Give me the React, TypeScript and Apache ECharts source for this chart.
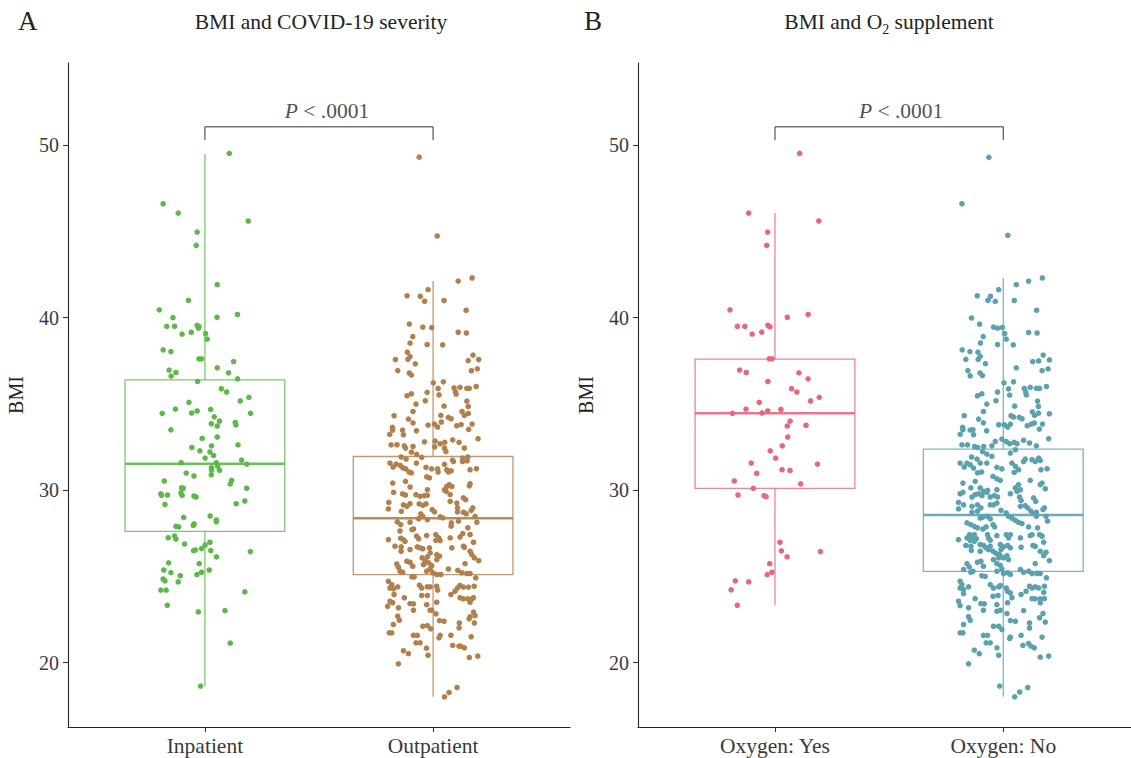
import React, { useEffect, useRef } from 'react';
import * as echarts from 'echarts';

const FONT = '"Liberation Serif", "DejaVu Serif", serif';

const panelLetters = ['A', 'B'];
const panelTitleA = 'BMI and COVID-19 severity';
const categoriesA = ['Inpatient', 'Outpatient'];
const categoriesB = ['Oxygen: Yes', 'Oxygen: No'];
const yTicks = [20, 30, 40, 50];
const pLabel = '.0001';

// box stats: [low whisker, q1, median, q3, high whisker]
const boxInpatient = [18.63, 27.61, 31.53, 36.39, 49.48];
const boxOutpatient = [18.02, 25.1, 28.37, 31.95, 42.12];
const boxOxygenYes = [23.33, 30.1, 34.46, 37.59, 46.06];
const boxOxygenNo = [18.02, 25.29, 28.56, 32.38, 42.3];

const colorInpatient = '#5DB84A';
const colorOutpatient = '#B0804D';
const colorOxygenYes = '#E4687E';
const colorOxygenNo = '#5CA2AE';

// points: [horizontal jitter (category units), BMI]
const inpatientPoints = [
  [0.107,49.52],[-0.183,46.6],[-0.117,46.06],[0.19,45.6],[-0.034,44.96],[-0.038,44.19],[0.054,41.91],[-0.072,41.0],[-0.2,40.45],[-0.14,40.0],[0.053,40.02],[0.143,40.18],[-0.167,39.49],[-0.133,39.5],[-0.034,39.55],[-0.026,39.49],[-0.028,39.39],[-0.1,39.04],[-0.06,39.15],[0.003,39.07],[0.01,38.75],[-0.183,38.13],[-0.149,38.03],[-0.026,37.61],[-0.015,37.61],[0.126,37.45],[0.054,37.09],[-0.157,36.96],[-0.127,36.82],[-0.148,36.61],[0.104,36.8],[0.143,36.45],[-0.032,36.3],[0.072,35.88],[0.095,35.69],[0.193,35.38],[0.155,35.17],[-0.07,35.09],[-0.129,34.7],[-0.187,34.45],[-0.058,34.47],[-0.034,34.59],[0.025,34.68],[0.2,34.45],[0.041,34.25],[0.064,34.0],[0.028,33.85],[0.054,33.72],[0.133,33.93],[0.136,33.78],[-0.149,33.49],[-0.012,33.0],[0.054,33.08],[-0.057,32.47],[0.029,32.57],[0.145,32.62],[-0.022,32.28],[0.022,32.21],[0.038,32.01],[0.001,31.86],[0.161,31.74],[-0.104,31.59],[0.05,31.59],[0.184,31.51],[0.056,31.39],[0.029,31.3],[0.029,31.17],[0.064,31.15],[-0.082,30.99],[-0.048,30.82],[0.028,30.89],[-0.178,30.53],[0.117,30.57],[0.111,30.36],[-0.102,30.13],[-0.095,30.11],[0.183,30.11],[-0.193,29.78],[-0.19,29.7],[-0.164,29.72],[-0.105,29.84],[-0.1,29.7],[-0.048,29.66],[-0.039,29.6],[-0.175,29.17],[0.175,29.37],[0.137,29.21],[-0.093,28.42],[0.023,28.5],[0.05,28.27],[0.05,28.17],[-0.127,27.9],[-0.115,27.87],[-0.051,27.96],[-0.047,28.04],[-0.161,27.24],[-0.133,27.34],[-0.127,27.17],[-0.089,26.88],[0.022,26.98],[0.001,26.82],[-0.015,26.61],[-0.05,26.49],[-0.042,26.53],[0.026,26.49],[0.199,26.44],[0.051,26.13],[-0.159,25.78],[-0.025,25.74],[-0.18,25.37],[-0.149,25.22],[-0.108,25.04],[-0.035,25.1],[-0.015,25.24],[0.019,25.37],[-0.183,24.85],[-0.175,24.74],[-0.117,24.68],[-0.193,24.2],[-0.17,24.2],[0.175,24.1],[-0.165,23.33],[-0.029,22.94],[0.088,23.02],[0.111,21.13],[-0.019,18.64]
];

const outpatientPoints = [
  [-0.061,49.3],[0.018,44.73],
  [0.171,42.3],[0.11,42.12],[-0.022,41.62],[-0.114,41.27],[-0.056,41.24],[-0.037,40.95],[0.048,40.99],[0.145,40.43],[-0.104,39.62],[-0.045,39.45],[-0.006,39.42],[0.11,39.15],[0.146,39.11],[-0.089,38.9],[-0.101,38.52],[-0.026,38.44],[0.042,38.42],[-0.113,38.0],[-0.101,37.74],[-0.11,37.59],[-0.165,37.57],[-0.078,37.32],[-0.155,36.93],[-0.104,36.79],[-0.095,36.67],[0.175,37.83],[0.154,37.51],[0.2,37.57],[0.194,37.03],[0.168,36.92],[0.001,36.22],[0.045,36.28],[0.022,35.89],[0.092,35.92],[0.098,35.7],[0.101,35.57],[0.118,35.96],[0.148,35.9],[0.159,35.9],[0.189,36.01],[-0.114,35.47],[-0.095,35.58],[-0.026,35.67],[0.026,35.52],[-0.075,34.99],[-0.034,35.18],[0.048,34.87],[0.148,35.16],[0.154,34.85],[-0.088,34.56],[-0.171,34.31],[0.034,34.33],[0.067,34.22],[0.079,34.14],[0.127,34.56],[0.137,34.33],[0.154,34.44],[-0.108,34.12],[-0.088,33.9],[-0.178,33.64],[-0.177,33.48],[-0.19,33.23],[-0.134,33.48],[-0.13,33.21],[-0.073,33.44],[-0.022,33.77],[0.006,33.83],[0.02,33.66],[0.036,33.95],[0.104,33.73],[0.123,33.8],[0.171,33.83],[0.156,33.52],[-0.184,32.62],[-0.158,32.63],[-0.126,32.57],[-0.121,32.44],[-0.088,32.53],[-0.038,32.8],[0.009,32.84],[0.031,32.69],[0.051,32.77],[0.007,32.51],[0.05,32.44],[0.056,32.24],[0.086,32.91],[0.114,32.77],[0.197,32.98],[0.137,32.44],[-0.095,32.2],[-0.072,32.07],[-0.14,31.92],[-0.118,31.8],[-0.05,31.9],[0.152,31.92],[0.149,31.7],[0.129,31.66],[0.129,31.86],[0.085,31.74],[0.089,31.66],[-0.189,31.57],[-0.175,31.34],[-0.162,31.51],[-0.143,31.43],[-0.133,31.3],[-0.12,31.23],[-0.073,31.57],[-0.031,31.32],[-0.006,31.23],[0.02,31.23],[0.022,31.05],[0.05,31.49],[0.06,31.18],[0.067,31.05],[0.079,31.12],[0.162,31.18],[0.19,31.24],[-0.105,31.05],[-0.095,31.0],[-0.028,30.77],[-0.016,30.71],
  [-0.177,30.41],[-0.121,30.51],[-0.101,30.18],[-0.173,29.87],[-0.134,29.78],[-0.121,29.72],[-0.075,29.74],[-0.057,29.64],[-0.039,29.68],[-0.025,29.7],[-0.025,30.02],[0.05,30.02],[0.06,30.21],[0.071,30.31],[0.082,30.21],[0.057,29.93],[0.162,30.37],[0.159,30.25],[-0.194,29.29],[-0.196,28.91],[-0.13,29.15],[-0.115,29.06],[-0.101,29.21],[-0.139,28.77],[-0.061,29.2],[-0.045,29.12],[-0.031,29.2],[0.075,29.74],[0.075,29.35],[0.104,29.25],[0.107,28.97],[0.133,29.55],[0.143,29.45],[0.174,28.97],[0.167,28.83],[-0.004,28.87],[0.006,28.74],[0.031,28.45],[0.042,28.39],[0.107,28.74],[0.133,28.72],[0.145,28.63],[-0.054,28.62],[-0.045,28.48],[-0.025,28.29],[-0.063,28.34],[0.184,28.48],[0.192,28.14],[-0.157,28.16],[-0.142,28.0],[-0.101,28.14],[-0.086,27.75],[-0.092,27.71],[0.08,28.1],[0.079,27.91],[0.111,28.2],[0.118,27.28],[0.13,27.48],[0.152,27.82],[0.162,27.43],[0.177,26.98],[-0.145,27.63],[-0.142,27.21],[-0.196,27.13],[-0.13,27.13],[-0.123,27.03],[-0.072,27.33],[-0.063,27.18],[-0.028,27.37],[0.012,27.42],[0.025,27.23],[0.031,27.07],[0.012,27.09],[0.075,27.23],[-0.167,26.75],[-0.14,26.71],[-0.14,26.46],[-0.101,26.56],[-0.069,26.71],[-0.057,26.65],[-0.045,26.6],[-0.016,26.65],[-0.013,26.36],[-0.025,26.13],[0.016,26.26],[0.028,26.17],[0.016,25.97],[0.082,26.65],[0.133,26.75],[0.137,26.69],[0.162,26.46],[0.17,26.26],[0.181,26.07],[0.2,25.91],[-0.048,26.07],[-0.035,25.88],[-0.042,25.68],[-0.115,25.88],[-0.101,25.82],[-0.089,25.59],[-0.159,25.72],[-0.152,25.53],[-0.145,25.3],[-0.133,25.24],[-0.019,25.78],[-0.006,25.62],[-0.013,25.43],[0.14,25.74],[0.067,25.43],[0.108,25.35],[-0.028,25.3],[-0.001,25.21],[0.016,25.11],[0.034,25.11],[0.126,25.21],[0.148,25.17],[0.162,25.17],[-0.093,24.97],[-0.083,24.97],[0.187,24.91],[-0.196,24.72],[-0.181,24.52],[-0.189,24.33],[-0.174,24.28],[-0.155,24.39],[-0.06,24.49],[-0.05,24.33],[-0.025,24.39],[-0.013,24.39],[0.016,24.43],[0.02,24.2],[0.118,24.47],[0.107,24.33],[0.096,24.14],[0.133,24.38],[0.155,24.38],[0.18,24.43],[-0.171,23.95],[-0.189,23.56],[-0.177,23.47],[-0.199,23.27],[-0.126,23.76],[-0.05,23.89],[-0.025,23.89],[0.078,23.95],[0.118,23.76],[0.133,23.7],[0.152,23.7],[0.17,23.7],[0.177,23.76],[0.162,23.5],[-0.101,23.42],[-0.086,23.41],[-0.086,23.04],[-0.028,23.36],[0.016,23.5],[-0.152,23.18],[-0.013,23.04],[-0.006,23.04],[0.013,22.83],[-0.155,22.69],[-0.148,22.46],[0.177,22.93],[0.184,22.73],[0.162,22.66],[0.158,22.54],[0.028,22.44],[0.048,22.4],[0.115,22.3],[0.181,22.3],[-0.174,22.21],[-0.045,22.11],[-0.025,22.15],[-0.01,21.96],[0.114,22.02],[-0.192,21.73],[-0.181,21.73],[-0.086,21.59],[-0.069,21.58],[0.031,21.58],[0.026,21.44],[0.078,21.59],[0.167,21.5],[-0.075,21.15],[-0.057,21.15],[0.086,21.0],[0.113,20.96],[0.121,20.96],[0.137,20.86],[-0.029,20.84],[-0.13,20.69],[-0.108,20.52],[-0.022,20.43],[0.159,20.3],[0.196,20.38],[-0.152,19.93],[0.105,18.56],[0.07,18.27],[0.05,18.02]
];

const oxygenYesPoints = [
  [0.108,49.52],[-0.115,46.06],[0.192,45.6],[-0.032,44.96],[-0.036,44.19],[-0.197,40.45],[0.054,40.02],[0.145,40.18],[-0.165,39.49],[-0.132,39.49],[-0.031,39.56],[-0.022,39.46],[-0.1,39.04],[-0.058,39.16],[-0.025,37.61],[-0.013,37.61],[-0.155,36.96],[-0.126,36.82],[0.105,36.8],[0.145,36.45],[-0.031,36.3],[0.073,35.88],[0.096,35.69],[0.194,35.38],[0.156,35.17],[-0.069,35.09],[-0.127,34.7],[-0.186,34.45],[-0.057,34.47],[-0.032,34.59],[0.026,34.68],[0.066,34.0],[0.054,33.72],[0.136,33.76],[0.056,33.08],[0.032,32.57],[-0.021,32.28],[0.003,31.86],[-0.104,31.57],[0.186,31.51],[0.031,31.18],[0.066,31.14],[-0.08,30.97],[-0.178,30.53],[0.113,30.36],[-0.095,30.1],[-0.162,29.72],[-0.048,29.68],[-0.039,29.62],[0.022,26.98],[0.028,26.48],[0.199,26.44],[0.053,26.13],[-0.023,25.74],[-0.013,25.24],[-0.034,25.1],[-0.174,24.74],[-0.115,24.68],[-0.192,24.22],[-0.165,23.33]
];

const oxygenNoPoints = [
  [-0.063,49.29],[-0.181,46.6],[0.02,44.77],[0.171,42.3],[0.111,42.12],[-0.02,41.62],[0.057,41.91],[-0.114,41.27],[-0.056,41.24],[-0.067,41.0],[-0.035,40.94],[0.048,40.99],[0.146,40.43],[-0.139,39.98],[-0.104,39.62],[-0.043,39.45],[-0.025,39.39],[-0.004,39.43],[0.006,39.08],[0.013,38.75],[0.111,39.14],[0.148,39.11],[-0.088,38.9],[-0.1,38.53],[-0.025,38.44],[0.044,38.42],[-0.18,38.13],[-0.146,38.03],[-0.111,38.0],[-0.101,37.75],[-0.11,37.58],[-0.164,37.58],[-0.078,37.33],[0.175,37.83],[0.202,37.55],[0.129,37.45],[0.155,37.49],[-0.155,36.93],[-0.145,36.62],[-0.102,36.79],[-0.091,36.64],[0.17,36.93],[0.196,37.03],[0.057,37.09],[0.003,36.22],[0.045,36.28],[0.023,35.87],[0.092,35.9],[0.098,35.69],[0.101,35.52],[0.118,35.96],[0.145,35.9],[0.159,35.9],[0.189,36.01],[-0.113,35.47],[-0.094,35.58],[-0.025,35.69],[0.028,35.51],[-0.072,34.99],[-0.032,35.18],[0.05,34.87],[0.15,35.16],[0.154,34.85],[-0.087,34.56],[-0.171,34.31],[0.034,34.31],[0.045,34.23],[0.07,34.22],[0.082,34.14],[0.127,34.54],[0.137,34.33],[0.154,34.46],[0.202,34.43],[-0.108,34.12],[-0.087,33.9],[-0.178,33.64],[-0.177,33.5],[-0.189,33.23],[-0.145,33.48],[-0.13,33.21],[-0.133,33.5],[-0.073,33.44],[-0.02,33.79],[0.004,33.79],[0.019,33.66],[0.031,33.83],[0.105,33.73],[0.123,33.83],[0.136,33.89],[0.172,33.83],[0.158,33.54],
  [0.199,32.98],[-0.181,32.62],[-0.157,32.62],[-0.126,32.53],[-0.113,32.47],[-0.086,32.53],[-0.091,32.24],[-0.05,32.57],[-0.035,32.82],[-0.006,32.96],[0.013,32.82],[0.028,32.69],[0.048,32.77],[0.06,32.69],[0.089,32.89],[0.115,32.73],[0.145,32.57],[0.031,32.15],[0.053,32.34],[-0.072,32.09],[-0.05,31.96],[-0.139,31.92],[-0.115,31.8],[-0.101,31.57],[-0.189,31.57],[-0.171,31.34],[-0.159,31.57],[-0.145,31.47],[-0.13,31.28],[-0.072,31.57],[-0.028,31.32],[-0.006,31.23],[0.038,31.57],[0.053,31.38],[0.067,31.18],[0.048,31.03],[0.089,31.66],[0.096,31.8],[0.126,31.76],[0.14,31.66],[0.155,31.86],[0.162,31.72],[0.165,31.18],[0.192,31.24],[-0.113,31.0],[-0.095,31.05],[-0.045,30.8],[-0.028,30.65],[-0.013,30.57],[-0.177,30.41],[-0.123,30.51],[0.118,30.57],[0.162,30.32],[0.17,30.41],[-0.142,30.13],[-0.101,30.13],[-0.086,29.93],[-0.069,29.99],[-0.028,30.02],[0.053,30.13],[0.067,30.32],[0.075,30.02],[0.06,29.93],[0.184,30.08],[-0.189,29.79],[-0.177,29.87],[-0.196,29.29],[-0.137,29.6],[-0.123,29.74],[-0.108,29.79],[-0.093,29.68],[-0.072,29.87],[-0.057,29.6],[-0.039,29.68],[-0.025,29.6],[0.031,29.79],[0.078,29.4],[0.071,29.6],[0.133,29.55],[0.142,29.35],[-0.174,29.15],[-0.137,29.06],[-0.113,29.15],[-0.098,28.97],[-0.057,29.15],[-0.043,29.15],[-0.028,29.25],[0.096,29.1],[0.107,28.97],[-0.196,28.91],[-0.137,28.72],[-0.113,28.78],[-0.01,28.83],[0.013,28.68],[0.075,29.06],[0.121,28.78],[0.133,28.64],[0.145,28.72],[0.174,28.88],[0.18,28.97],[-0.101,28.38],[-0.089,28.44],[-0.069,28.48],[-0.057,28.33],[0.023,28.48],[0.038,28.37],[0.053,28.25],[0.067,28.14],[0.082,28.06],[0.145,28.48],[0.187,28.48],[-0.159,28.1],[-0.142,28.0],[-0.127,27.9],[-0.113,27.81],[0.194,28.2],[-0.045,28.0],[-0.038,27.87],[-0.089,27.75],[-0.075,27.87],[0.111,27.87],[0.15,27.81],[-0.069,27.42],[-0.028,27.36],[0.013,27.42],[0.023,27.23],[0.031,27.42],[0.075,27.23],[0.118,27.36],[0.126,27.42],[-0.196,27.13],[-0.159,27.23],[-0.148,27.42],[-0.137,27.29],[-0.127,27.42],[-0.145,27.09],[-0.127,27.04],[-0.118,27.18],[-0.064,27.2],[-0.057,27.09],[0.17,27.33],[0.159,27.42],[-0.164,26.79],[-0.142,26.75],[-0.101,26.85],[-0.086,26.79],[-0.075,26.65],[-0.064,26.55],[-0.057,26.75],[-0.013,26.85],[0.001,26.71],[0.019,26.79],[0.031,26.65],[0.078,26.69],[0.13,26.79],[0.14,26.75],[0.177,26.98],[-0.14,26.51],[-0.101,26.46],[-0.045,26.46],[-0.031,26.33],[-0.016,26.26],[-0.01,26.55],[-0.02,26.07],[0.001,26.07],[0.016,26.2],[0.023,25.97],[-0.043,25.97],[-0.028,25.74],[0.162,26.46],[0.177,26.2],[0.187,26.4],[0.202,25.91],[-0.113,25.82],[-0.087,25.59],[-0.098,25.88],[-0.159,25.74],[-0.149,25.55],[-0.142,25.24],[-0.174,25.4],[-0.013,25.64],[-0.006,25.43],[0.14,25.74],[-0.133,25.3],[-0.028,25.3],[0.001,25.17],[0.019,25.21],[0.031,25.11],[0.075,25.4],[0.089,25.24],[0.111,25.3],[-0.094,25.04],[-0.079,25.0],[0.126,25.17],[0.148,25.17],[0.162,25.17],[0.189,24.92],[-0.189,24.72],[-0.181,24.52],[-0.174,24.23],[-0.189,24.33],[-0.152,24.39],[-0.174,24.0],[-0.057,24.52],[-0.043,24.33],[-0.02,24.39],[-0.013,24.47],[0.013,24.33],[0.019,24.14],[0.031,24.04],[0.078,23.95],[0.1,24.14],[0.115,24.43],[0.126,24.33],[0.14,24.39],[0.155,24.33],[0.18,24.43],[0.177,24.08],[-0.045,23.85],[-0.023,23.89],[-0.123,23.71],[0.038,23.76],[0.126,23.71],[0.14,23.7],[0.162,23.7],[0.18,23.71],[0.162,23.47],[-0.196,23.56],[-0.189,23.31],[-0.098,23.42],[-0.083,23.41],[-0.028,23.36],[0.019,23.47],[-0.152,23.18],[-0.087,23.04],[-0.028,22.98],[-0.013,23.04],[0.089,23.02],[0.016,22.85],[-0.152,22.66],[-0.145,22.46],[0.159,22.6],[0.174,22.85],[0.184,22.35],[0.031,22.44],[0.053,22.4],[0.115,22.3],[0.115,22.01],[-0.174,22.21],[-0.043,22.11],[-0.02,22.11],[-0.006,21.92],[-0.189,21.73],[-0.177,21.73],[-0.087,21.58],[-0.069,21.58],[0.031,21.48],[0.028,21.4],[0.078,21.58],[0.17,21.48],[-0.075,21.15],[-0.057,21.15],[0.086,21.0],[0.111,21.11],[0.121,20.96],[0.136,20.86],[-0.028,20.86],[-0.127,20.73],[-0.105,20.52],[-0.02,20.43],[0.162,20.32],[0.199,20.38],[-0.152,19.93],[-0.016,18.64],[0.107,18.56],[0.072,18.3],[0.05,18.02]
];

const Y_MIN = 16.27;
const Y_MAX = 54.76;
const BOX_WIDTH = 0.7;
const BRACKET_TOP = 51.06;
const BRACKET_END = 50.29;

function toXY(points: number[][], cat: number) {
  return points.map((p) => [cat + p[0], p[1]]);
}

function makeAxes(gridIndex: number, cats: string[], xMax: number) {
  const xAxis = {
    type: 'value',
    gridIndex,
    min: 0.4,
    max: xMax,
    axisLine: { show: true, lineStyle: { color: '#222', width: 1.1 } },
    axisTick: { show: true, length: 5, customValues: [1, 2], lineStyle: { color: '#333', width: 1.1 } },
    axisLabel: {
      customValues: [1, 2],
      formatter: (v: number) => cats[Math.round(v) - 1] || '',
      fontSize: 21.5,
      color: '#3a3a3a',
      fontFamily: FONT,
      margin: 8,
    },
    splitLine: { show: false },
  };
  const yAxis = {
    type: 'value',
    gridIndex,
    min: Y_MIN,
    max: Y_MAX,
    name: 'BMI',
    nameLocation: 'middle',
    nameRotate: 90,
    nameGap: 42,
    nameTextStyle: { fontSize: 20, color: '#222', fontFamily: FONT },
    axisLine: { show: true, lineStyle: { color: '#222', width: 1.1 } },
    axisTick: { show: true, length: 5, customValues: yTicks, lineStyle: { color: '#333', width: 1.1 } },
    axisLabel: { customValues: yTicks, fontSize: 20, color: '#3a3a3a', fontFamily: FONT, margin: 9 },
    splitLine: { show: false },
  };
  return { xAxis, yAxis };
}

function boxSeries(gridIndex: number, boxes: number[][], colors: string[]) {
  return {
    type: 'custom',
    xAxisIndex: gridIndex,
    yAxisIndex: gridIndex,
    silent: true,
    z: 2,
    encode: { x: 0, y: [1, 2, 3, 4, 5] },
    data: boxes.map((b, i) => [i + 1, ...b]),
    renderItem: (params: any, api: any) => {
      const x = api.value(0);
      const low = api.coord([x, api.value(1)]);
      const q1 = api.coord([x, api.value(2)]);
      const med = api.coord([x, api.value(3)]);
      const q3 = api.coord([x, api.value(4)]);
      const high = api.coord([x, api.value(5)]);
      const half = api.size([BOX_WIDTH, 0])[0] / 2;
      const color = colors[params.dataIndex];
      const style = { stroke: color, lineWidth: 1.3, fill: 'rgba(0,0,0,0)', opacity: 0.8 };
      return {
        type: 'group',
        children: [
          { type: 'line', shape: { x1: low[0], y1: low[1], x2: q1[0], y2: q1[1] }, style },
          { type: 'line', shape: { x1: q3[0], y1: q3[1], x2: high[0], y2: high[1] }, style },
          { type: 'rect', shape: { x: q3[0] - half, y: q3[1], width: half * 2, height: q1[1] - q3[1] }, style },
          { type: 'line', shape: { x1: med[0] - half, y1: med[1], x2: med[0] + half, y2: med[1] }, style: { ...style, lineWidth: 2.4, opacity: 0.9 } },
        ],
      };
    },
  };
}

function pointSeries(gridIndex: number, points: number[][], cat: number, color: string) {
  return {
    type: 'scatter',
    xAxisIndex: gridIndex,
    yAxisIndex: gridIndex,
    silent: true,
    z: 3,
    symbolSize: 5.6,
    itemStyle: { color, opacity: 1 },
    data: toXY(points, cat),
  };
}

function bracketSeries(gridIndex: number, offsetX: number) {
  return [
    {
      type: 'line',
      xAxisIndex: gridIndex,
      yAxisIndex: gridIndex,
      silent: true,
      symbol: 'none',
      lineStyle: { color: '#333', width: 1 },
      data: [[1, BRACKET_END], [1, BRACKET_TOP], [2, BRACKET_TOP], [2, BRACKET_END]],
      z: 4,
    },
    {
      type: 'scatter',
      xAxisIndex: gridIndex,
      yAxisIndex: gridIndex,
      silent: true,
      symbolSize: 0,
      data: [[1.5, BRACKET_TOP]],
      label: {
        show: true,
        position: 'top',
        distance: 5,
        offset: [offsetX, 0],
        formatter: '{i|P} < ' + pLabel,
        fontSize: 21.5,
        color: '#222',
        fontFamily: FONT,
        rich: { i: { fontStyle: 'italic', fontSize: 21.5, fontFamily: FONT, color: '#222' } },
      },
      z: 4,
    },
  ];
}

export default function App() {
  const ref = useRef<HTMLDivElement>(null);
  useEffect(() => {
    document.body.style.margin = '0';
    if (!ref.current) return;
    const chart = echarts.init(ref.current, undefined, { renderer: 'svg' });
    const a = makeAxes(0, categoriesA, 2.6);
    const b = makeAxes(1, categoriesB, 0.4 + 493 / 228.3);
    chart.setOption({
      animation: false,
      backgroundColor: '#fff',
      grid: [
        { left: 68, top: 63, width: 502, height: 664 },
        { left: 638, top: 63, width: 493, height: 664 },
      ],
      xAxis: [a.xAxis, b.xAxis],
      yAxis: [a.yAxis, b.yAxis],
      graphic: [
        { type: 'text', left: 18, top: 7, style: { text: panelLetters[0], fontSize: 27, fontFamily: FONT, fill: '#222' } },
        { type: 'text', left: 584, top: 7, style: { text: panelLetters[1], fontSize: 27, fontFamily: FONT, fill: '#222' } },
        { type: 'text', x: 321, y: 22, style: { text: panelTitleA, align: 'center', verticalAlign: 'middle', fontSize: 21.5, fontFamily: FONT, fill: '#222' } },
        {
          type: 'text', x: 889, y: 22,
          style: {
            text: '{n|BMI and O}{s|2}{n| supplement}',
            align: 'center', verticalAlign: 'middle', fontFamily: FONT, fill: '#222',
            rich: {
              n: { fontSize: 21.5, fontFamily: FONT, fill: '#222', lineHeight: 28, verticalAlign: 'middle' },
              s: { fontSize: 14, fontFamily: FONT, fill: '#222', lineHeight: 28, verticalAlign: 'bottom', padding: [11, 0, 0, 0] },
            },
          },
        },
      ],
      series: [
        boxSeries(0, [boxInpatient, boxOutpatient], [colorInpatient, colorOutpatient]),
        pointSeries(0, inpatientPoints, 1, colorInpatient),
        pointSeries(0, outpatientPoints, 2, colorOutpatient),
        ...bracketSeries(0, 8),
        boxSeries(1, [boxOxygenYes, boxOxygenNo], [colorOxygenYes, colorOxygenNo]),
        pointSeries(1, oxygenYesPoints, 1, colorOxygenYes),
        pointSeries(1, oxygenNoPoints, 2, colorOxygenNo),
        ...bracketSeries(1, 12),
      ],
    });
    return () => chart.dispose();
  }, []);
  return <div ref={ref} style={{ width: 1131, height: 758 }} />;
}
